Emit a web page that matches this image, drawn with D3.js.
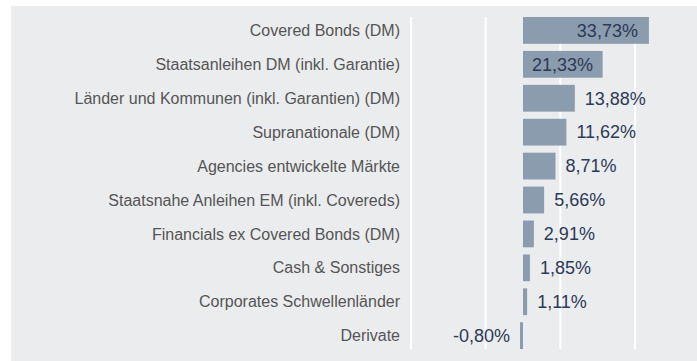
<!DOCTYPE html>
<html>
<head>
<meta charset="utf-8">
<script src="https://cdn.jsdelivr.net/npm/d3@7"></script>
<style>
  html, body { margin: 0; padding: 0; background: #ffffff; }
  svg { display: block; }
</style>
</head>
<body>
<svg id="chart" width="697" height="361"></svg>
<script>
// Portfolio allocation by segment (%)
const categories = [
  "Covered Bonds (DM)",
  "Staatsanleihen DM (inkl. Garantie)",
  "Länder und Kommunen (inkl. Garantien) (DM)",
  "Supranationale (DM)",
  "Agencies entwickelte Märkte",
  "Staatsnahe Anleihen EM (inkl. Covereds)",
  "Financials ex Covered Bonds (DM)",
  "Cash & Sonstiges",
  "Corporates Schwellenländer",
  "Derivate"
];
const values = [33.73, 21.33, 13.88, 11.62, 8.71, 5.66, 2.91, 1.85, 1.11, -0.80];
const gridValues = [-30, -10, 10, 30];

const width = 697, height = 361;
const fontFamily = "'Liberation Sans', Arial, Helvetica, sans-serif";
const svg = d3.select("#chart");

// panel background
svg.append("rect")
  .attr("x", 11).attr("y", 6)
  .attr("width", width - 11).attr("height", height - 6)
  .attr("fill", "#ebecee");

const x = d3.scaleLinear().domain([-30, 30]).range([411, 635]);
const y = d3.scaleBand()
  .domain(categories)
  .range([13.44, 352.64])
  .paddingInner(0.21)
  .paddingOuter(0.105);

const yTop = y(categories[0]);
const yBottom = y(categories[categories.length - 1]) + y.bandwidth();

// vertical grid lines
svg.append("g").selectAll("line")
  .data(gridValues)
  .join("line")
  .attr("x1", d => x(d)).attr("x2", d => x(d))
  .attr("y1", yTop).attr("y2", yBottom)
  .attr("stroke", "#ffffff")
  .attr("stroke-width", 2);

// bars
svg.append("g").selectAll("rect")
  .data(values)
  .join("rect")
  .attr("x", d => x(Math.min(0, d)))
  .attr("width", d => Math.abs(x(d) - x(0)))
  .attr("y", (d, i) => y(categories[i]))
  .attr("height", y.bandwidth())
  .attr("fill", "#8a9cae");

// category labels
svg.append("g").selectAll("text")
  .data(categories)
  .join("text")
  .attr("x", 400)
  .attr("y", d => y(d) + y.bandwidth() / 2)
  .attr("dy", "0.35em")
  .attr("text-anchor", "end")
  .style("font-family", fontFamily)
  .style("font-size", "16px")
  .attr("fill", "#555555")
  .text(d => d);

// value labels: inside long bars, outside otherwise
const fmt = v => v.toFixed(2).replace(".", ",") + "%";
const insideThreshold = 20;
svg.append("g").selectAll("text")
  .data(values)
  .join("text")
  .attr("x", d => {
    if (d >= insideThreshold) return d > 30 ? x(d) - 11 : x(0) + 9;
    return d >= 0 ? x(d) + 10 : x(d) - 10;
  })
  .attr("y", (d, i) => y(categories[i]) + y.bandwidth() / 2)
  .attr("dy", "0.35em")
  .attr("text-anchor", d => {
    if (d >= insideThreshold) return d > 30 ? "end" : "start";
    return d >= 0 ? "start" : "end";
  })
  .style("font-family", fontFamily)
  .style("font-size", "18px")
  .attr("fill", "#2c3a57")
  .text(fmt);
</script>
</body>
</html>
